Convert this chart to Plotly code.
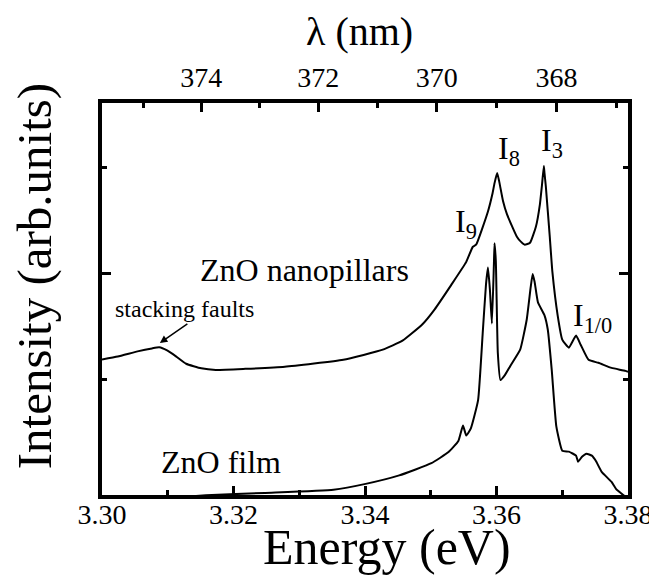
import plotly.graph_objects as go

# ---- data ----
nano_E = [3.3000, 3.3024, 3.3054, 3.3076, 3.3087, 3.3099, 3.3113, 3.3128, 3.3151, 3.3173,
          3.3218, 3.3278, 3.3367, 3.3427, 3.3457, 3.3487, 3.3506, 3.3531, 3.3554, 3.3564,
          3.3569, 3.3587, 3.3594, 3.3597, 3.3601, 3.3604, 3.3610, 3.3616, 3.3631, 3.3637,
          3.3643, 3.3651, 3.3660, 3.3666, 3.3669, 3.3672, 3.3673, 3.3675, 3.3681, 3.3685,
          3.3693, 3.3700, 3.3710, 3.3721, 3.3728, 3.3740, 3.3755, 3.3775, 3.3796, 3.3800]
nano_I = [1.194, 1.222, 1.270, 1.298, 1.308, 1.279, 1.221, 1.153, 1.110, 1.095,
          1.105, 1.124, 1.190, 1.286, 1.371, 1.524, 1.667, 1.895, 2.114, 2.257,
          2.276, 2.590, 2.762, 2.857, 2.952, 2.876, 2.686, 2.562, 2.352, 2.305,
          2.276, 2.295, 2.448, 2.657, 2.829, 3.019, 2.952, 2.829, 2.352, 2.019,
          1.610, 1.381, 1.305, 1.419, 1.333, 1.190, 1.162, 1.114, 1.086, 1.076]

film_E = [3.3000, 3.3084, 3.3158, 3.3248, 3.3352, 3.3401, 3.3452, 3.3501, 3.3527, 3.3542,
          3.3549, 3.3554, 3.3561, 3.3572, 3.3579, 3.3584, 3.3587, 3.3590, 3.3593, 3.3596,
          3.3597, 3.3599, 3.3602, 3.3606, 3.3613, 3.3621, 3.3636, 3.3646, 3.3652, 3.3655,
          3.3658, 3.3663, 3.3673, 3.3678, 3.3684, 3.3691, 3.3700, 3.3710, 3.3721, 3.3724,
          3.3730, 3.3737, 3.3745, 3.3751, 3.3760, 3.3775, 3.3782, 3.3800]
film_I = [-0.150, -0.120, -0.088, -0.065, -0.035, 0.020, 0.100, 0.215, 0.320, 0.425,
          0.571, 0.476, 0.543, 0.810, 1.440, 1.900, 2.060, 1.850, 1.533, 2.080,
          2.290, 2.120, 1.257, 1.000, 1.048, 1.133, 1.286, 1.571, 1.876, 2.000,
          1.924, 1.733, 1.610, 1.476, 1.095, 0.562, 0.333, 0.324, 0.286, 0.229,
          0.276, 0.305, 0.286, 0.238, 0.133, 0.038, -0.030, -0.120]

lambda_major = [374, 372, 370, 368]
lambda_minor = [375, 373, 371, 369, 367]
y_major = [2]
y_minor = [1, 3]
HC = 1239.84  # eV*nm

FONT = "Liberation Serif"
W, H = 657, 575
L, R, T, B = 94, 27, 95, 88


def px(xp):
    return (xp - L) / (W - L - R)


def py(yp):
    return (H - B - yp) / (H - T - B)


fig = go.Figure()
fig.add_trace(go.Scatter(x=nano_E, y=nano_I, mode="lines",
                         line=dict(color="black", width=2, shape="spline", smoothing=0.4),
                         showlegend=False, hoverinfo="skip"))
fig.add_trace(go.Scatter(x=film_E, y=film_I, mode="lines",
                         line=dict(color="black", width=2, shape="spline", smoothing=0.4),
                         showlegend=False, hoverinfo="skip"))
# invisible trace so the top (wavelength) axis is drawn
fig.add_trace(go.Scatter(x=[3.30, 3.38], y=[0, 0], mode="lines", xaxis="x2",
                         line=dict(width=0), opacity=0, showlegend=False, hoverinfo="skip"))

fig.update_layout(
    width=W, height=H,
    margin=dict(l=L, r=R, t=T, b=B),
    paper_bgcolor="white", plot_bgcolor="white",
    font=dict(family=FONT, color="black"),
    xaxis=dict(range=[3.30, 3.38], dtick=0.02, tick0=3.30, tickformat=".2f",
               ticks="inside", ticklen=9, tickwidth=3, tickcolor="black",
               minor=dict(dtick=0.01, ticks="inside", ticklen=5, tickwidth=3, tickcolor="black"),
               showline=True, linewidth=4, linecolor="black", mirror=True,
               showgrid=False, zeroline=False, ticklabelstandoff=-9,
               tickfont=dict(size=28, family=FONT, color="black")),
    xaxis2=dict(range=[3.30, 3.38], overlaying="x", side="top", anchor="y",
                tickvals=[HC / l for l in lambda_major],
                ticktext=[str(l) for l in lambda_major],
                ticks="inside", ticklen=9, tickwidth=3, tickcolor="black",
                minor=dict(tickvals=[HC / l for l in lambda_minor], ticks="inside",
                           ticklen=5, tickwidth=3, tickcolor="black"),
                showline=False, showgrid=False, zeroline=False,
                ticklabelstandoff=9,
                tickfont=dict(size=28, family=FONT, color="black")),
    yaxis=dict(range=[-0.085, 3.613], tickmode="array", tickvals=y_major,
               showticklabels=False,
               ticks="inside", ticklen=9, tickwidth=3, tickcolor="black",
               minor=dict(tickmode="array", tickvals=y_minor, ticks="inside",
                          ticklen=5, tickwidth=3, tickcolor="black"),
               showline=True, linewidth=4, linecolor="black", mirror="ticks",
               showgrid=False, zeroline=False),
)

# axis titles
fig.add_annotation(xref="paper", yref="paper", x=px(384), y=py(539),
                   text="Energy (eV)", showarrow=False, xanchor="center", yanchor="middle",
                   font=dict(size=50, family=FONT, color="black"))
fig.add_annotation(xref="paper", yref="paper", x=px(356), y=py(23),
                   text="λ (nm)", showarrow=False, xanchor="center", yanchor="middle",
                   font=dict(size=40, family=FONT, color="black"))
fig.add_annotation(xref="paper", yref="paper", x=px(25), y=py(268),
                   text="Intensity (arb.units)", showarrow=False, textangle=-90,
                   xanchor="center", yanchor="middle",
                   font=dict(size=49, family=FONT, color="black"))

# text labels inside the plot (pixel positions of their left/middle points)
labels = [
    (192, 262, "ZnO nanopillars", 32),
    (152, 454, "ZnO film", 32),
    (105, 301, "stacking faults", 24),
    (452, 215, "I<sub>9</sub>", 32),
    (495, 142, "I<sub>8</sub>", 32),
    (539, 134, "I<sub>3</sub>", 32),
    (572, 309, "I<sub>1/0</sub>", 32),
]
for xp, yp, txt, size in labels:
    fig.add_annotation(xref="paper", yref="paper", x=px(xp), y=py(yp), text=txt,
                       showarrow=False, xanchor="left", yanchor="middle",
                       font=dict(size=size, family=FONT, color="black"))

fig.add_annotation(x=3.3088, y=1.35, text="", showarrow=True, arrowhead=2,
                   arrowsize=1, arrowwidth=1.5, arrowcolor="black", ax=29, ay=-20)

fig.write_html("out.html")
